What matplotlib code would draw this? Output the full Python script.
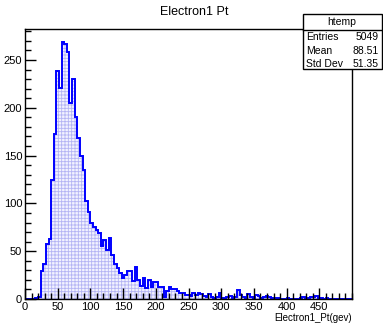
import numpy as np
import matplotlib
matplotlib.use("Agg")
import matplotlib.pyplot as plt
from matplotlib.patches import Rectangle
from matplotlib.lines import Line2D
from matplotlib.ticker import MultipleLocator

# histogram htemp: 125 bins from 0 to 500
x_min, x_max = 0, 500
counts = [0, 0, 0, 0, 1, 2, 29, 37, 58, 63,
          125, 173, 238, 221, 269, 267, 258, 205, 230, 190,
          168, 150, 135, 103, 91, 79, 75, 72, 69, 55,
          62, 51, 64, 46, 37, 32, 27, 22, 25, 29,
          29, 19, 33, 20, 14, 22, 11, 20, 13, 18,
          18, 13, 13, 2, 8, 13, 10, 10, 8, 6,
          6, 4, 4, 3, 6, 4, 6, 5, 3, 2,
          5, 2, 1, 2, 6, 1, 0, 2, 3, 1,
          2, 9, 4, 2, 1, 5, 2, 1, 4, 3,
          1, 2, 3, 2, 1, 1, 1, 0, 0, 0,
          1, 0, 0, 0, 0, 1, 2, 1, 1, 2,
          2, 3, 1, 1, 0, 1, 0, 0, 0, 0,
          0, 0, 0, 0, 0]
edges = np.linspace(x_min, x_max, len(counts) + 1)

title = "Electron1 Pt"
x_label = "Electron1_Pt(gev)"
stat_names = ["Entries", "Mean", "Std Dev"]
stat_values = ["5049", "88.51", "51.35"]

fonts = ["Liberation Sans Narrow", "Liberation Sans", "DejaVu Sans"]
plt.rcParams["font.family"] = fonts
plt.rcParams["hatch.linewidth"] = 0.6

W, H = 383, 324
fig = plt.figure(figsize=(W / 100, H / 100), dpi=100)
ax = fig.add_axes([25 / W, 25 / H, 327 / W, 270 / H])

# hatched fill + blue outline, ROOT style
ax.stairs(counts, edges, fill=True, facecolor="#f2f2ff", edgecolor="#b4b4f4",
          hatch="+++++", linewidth=0)
ax.stairs(counts, edges, color="#0000ff", linewidth=1.4)

ax.set_xlim(x_min, x_max)
ax.set_ylim(0, max(counts) * 1.05)
ax.set_xticks(np.arange(0, 451, 50))
ax.set_yticks(np.arange(0, 251, 50))
ax.xaxis.set_minor_locator(MultipleLocator(10))
ax.yaxis.set_minor_locator(MultipleLocator(10))
ax.tick_params(which="major", direction="in", length=8, width=1, labelsize=8, pad=2)
ax.tick_params(which="minor", direction="in", length=4, width=1)
for s in ax.spines.values():
    s.set_linewidth(1)

fig.text(0.507, 1 - 12 / H, title, ha="center", va="center", fontsize=9)
fig.text(352 / W, 1 - 318 / H, x_label, ha="right", va="center", fontsize=7)

# stats box
x0, x1 = 302.5 / W, 381.5 / W
y_top, y_bot, y_sep = 1 - 14.5 / H, 1 - 69.5 / H, 1 - 29.5 / H
fig.add_artist(Rectangle((x0, y_bot), x1 - x0, y_top - y_bot, transform=fig.transFigure,
                         facecolor="white", edgecolor="black", linewidth=1, zorder=5))
fig.add_artist(Line2D([x0, x1], [y_sep, y_sep], transform=fig.transFigure,
                      color="black", linewidth=1, zorder=6))
fig.text((x0 + x1) / 2, 1 - 22 / H, "htemp", ha="center", va="center", fontsize=7.5, zorder=7)
for i, (n, v) in enumerate(zip(stat_names, stat_values)):
    y = 1 - (37 + 13.5 * i) / H
    fig.text(306 / W, y, n, ha="left", va="center", fontsize=7.5, zorder=7)
    fig.text(379 / W, y, v, ha="right", va="center", fontsize=7.5, zorder=7)

fig.savefig("out.png", dpi=100)
